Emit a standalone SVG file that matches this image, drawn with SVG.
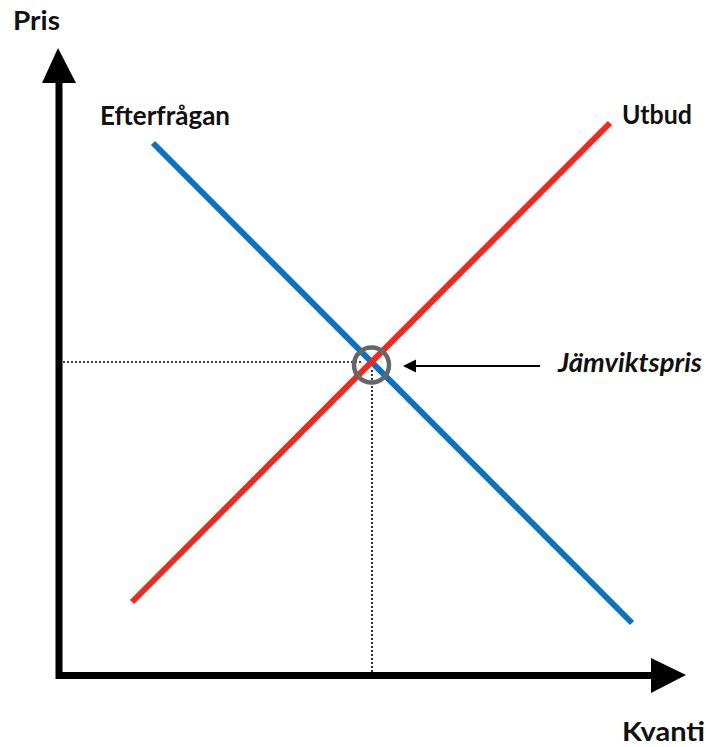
<svg xmlns="http://www.w3.org/2000/svg" width="706" height="747" viewBox="0 0 706 747">
<style>
.lbl{font-family:Lato,"Noto Sans","Liberation Sans",sans-serif;font-weight:700;font-size:26px;fill:#111}
.it{font-style:italic}
.axis{stroke:#000;stroke-width:7;fill:none}
.dot{stroke:#000;stroke-width:1.6;stroke-dasharray:2 2;fill:none}
</style>
<rect width="706" height="747" fill="#fff"/>
<g id="axes">
<line class="axis" x1="59" y1="80" x2="59" y2="679"/>
<line class="axis" x1="56" y1="675.5" x2="655" y2="675.5"/>
<polygon points="58,48 76,83 42,83" fill="#000"/>
<polygon points="686,675 651,658 651,693" fill="#000"/>
</g>
<g id="guides">
<line class="dot" x1="63" y1="362" x2="362" y2="362"/>
<line class="dot" x1="372" y1="370" x2="372" y2="672"/>
</g>
<g id="demand"><line x1="153" y1="143" x2="632" y2="623" stroke="#0A72BE" stroke-width="6"/></g>
<g id="supply"><line x1="132" y1="602" x2="610" y2="123" stroke="#EC2A1E" stroke-width="6"/></g>
<g id="equilibrium"><circle cx="371.5" cy="365" r="17.5" fill="none" stroke="#666" stroke-width="4.5"/></g>
<g id="connectors">
<line x1="540" y1="366" x2="412" y2="366" stroke="#000" stroke-width="2"/>
<polygon points="403,366 416,359.5 416,372.5" fill="#000"/>
</g>
<g id="labels">
<text class="lbl" x="13" y="30" textLength="47" lengthAdjust="spacingAndGlyphs">Pris</text>
<text class="lbl" x="622" y="741" textLength="83" lengthAdjust="spacingAndGlyphs">Kvanti</text>
<text class="lbl" x="100" y="125" textLength="130" lengthAdjust="spacingAndGlyphs">Efterfrågan</text>
<text class="lbl" x="622" y="124" textLength="70" lengthAdjust="spacingAndGlyphs">Utbud</text>
<text class="lbl it" x="558" y="372" font-size="25" textLength="144" lengthAdjust="spacingAndGlyphs">Jämviktspris</text>
</g>
</svg>
